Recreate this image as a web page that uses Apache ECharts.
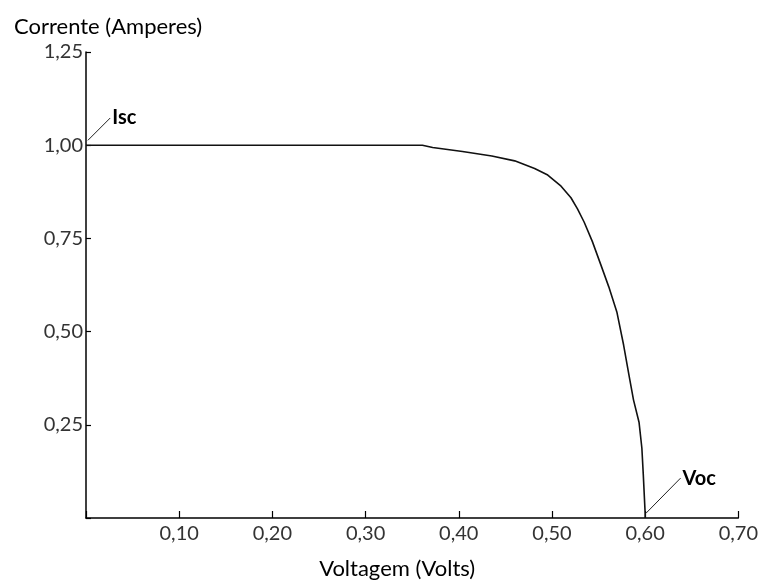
<!DOCTYPE html>
<html>
<head>
<meta charset="utf-8">
<script src="https://cdn.jsdelivr.net/npm/echarts@6/dist/echarts.min.js"></script>
<style>
html,body{margin:0;padding:0;background:#fff;}
#chart{width:761px;height:585px;}
</style>
</head>
<body>
<div id="chart"></div>
<script>
// I-V curve of a solar cell
var voltage = [0, 0.361, 0.372, 0.404, 0.4355, 0.460, 0.4814, 0.4955, 0.5098, 0.5204, 0.5274, 0.5345, 0.5433, 0.5522, 0.561, 0.5698, 0.5769, 0.5825, 0.5875, 0.5935, 0.5965, 0.598, 0.600, 0.600];
var current = [1.0, 1.0, 0.994, 0.983, 0.971, 0.958, 0.9375, 0.920, 0.890, 0.859, 0.829, 0.794, 0.742, 0.681, 0.620, 0.551, 0.464, 0.385, 0.317, 0.256, 0.187, 0.117, 0.013, 0];

// annotation leader lines
var iscLeaderV = [0.002, 0.026];
var iscLeaderI = [1.013, 1.073];
var vocLeaderV = [0.601, 0.638];
var vocLeaderI = [0.013, 0.107];

var xTickStep = 0.1, xMax = 0.7;
var yTickStep = 0.25, yMax = 1.25;

function pairs(xs, ys){ return xs.map(function(x,i){ return [x, ys[i]]; }); }
function fmt(v){ return v === 0 ? '' : v.toFixed(2).replace('.', ','); }

var font = 'Lato, "Open Sans", sans-serif';

var iscData = pairs(iscLeaderV, iscLeaderI);
iscData[1] = {value: iscData[1], label: {show: true, formatter: 'Isc', position: 'right', distance: 2}};
var vocData = pairs(vocLeaderV, vocLeaderI);
vocData[1] = {value: vocData[1], label: {show: true, formatter: 'Voc', position: 'right', distance: 2}};

var chart = echarts.init(document.getElementById('chart'));
chart.setOption({
  animation: false,
  backgroundColor: '#fff',
  title: {
    text: 'Corrente (Amperes)',
    left: 9, top: 11,
    textStyle: {fontFamily: font, fontSize: 22, fontWeight: 'normal', color: '#000'}
  },
  grid: {left: 86, right: 15, top: 52, bottom: 60},
  xAxis: {
    type: 'value', min: 0, max: xMax, interval: xTickStep,
    name: 'Voltagem (Volts)', nameLocation: 'middle', nameGap: 40,
    nameTextStyle: {fontFamily: font, fontSize: 22, color: '#000', padding: [0, 30, 0, 0]},
    axisLine: {lineStyle: {color: '#000', width: 1.5}},
    axisTick: {inside: true, length: 7, lineStyle: {color: '#000', width: 1.2}},
    axisLabel: {formatter: fmt, fontFamily: font, fontSize: 20, color: '#333', margin: 6},
    splitLine: {show: false}
  },
  yAxis: {
    type: 'value', min: 0, max: yMax, interval: yTickStep,
    axisLine: {show: true, lineStyle: {color: '#000', width: 1.5}},
    axisTick: {show: true, inside: true, length: 5, lineStyle: {color: '#000', width: 1.2}},
    axisLabel: {formatter: fmt, fontFamily: font, fontSize: 20, color: '#333', margin: 3},
    splitLine: {show: false}
  },
  series: [
    {
      type: 'line', data: pairs(voltage, current), showSymbol: false, smooth: false,
      lineStyle: {color: '#111', width: 1.6}
    },
    {
      type: 'line', data: iscData, symbol: 'circle', symbolSize: 0, showSymbol: true,
      lineStyle: {color: '#222', width: 1},
      label: {fontFamily: font, fontSize: 20, fontWeight: 'bold', color: '#000'}
    },
    {
      type: 'line', data: vocData, symbol: 'circle', symbolSize: 0, showSymbol: true,
      lineStyle: {color: '#222', width: 1},
      label: {fontFamily: font, fontSize: 20, fontWeight: 'bold', color: '#000'}
    }
  ]
});
</script>
</body>
</html>
